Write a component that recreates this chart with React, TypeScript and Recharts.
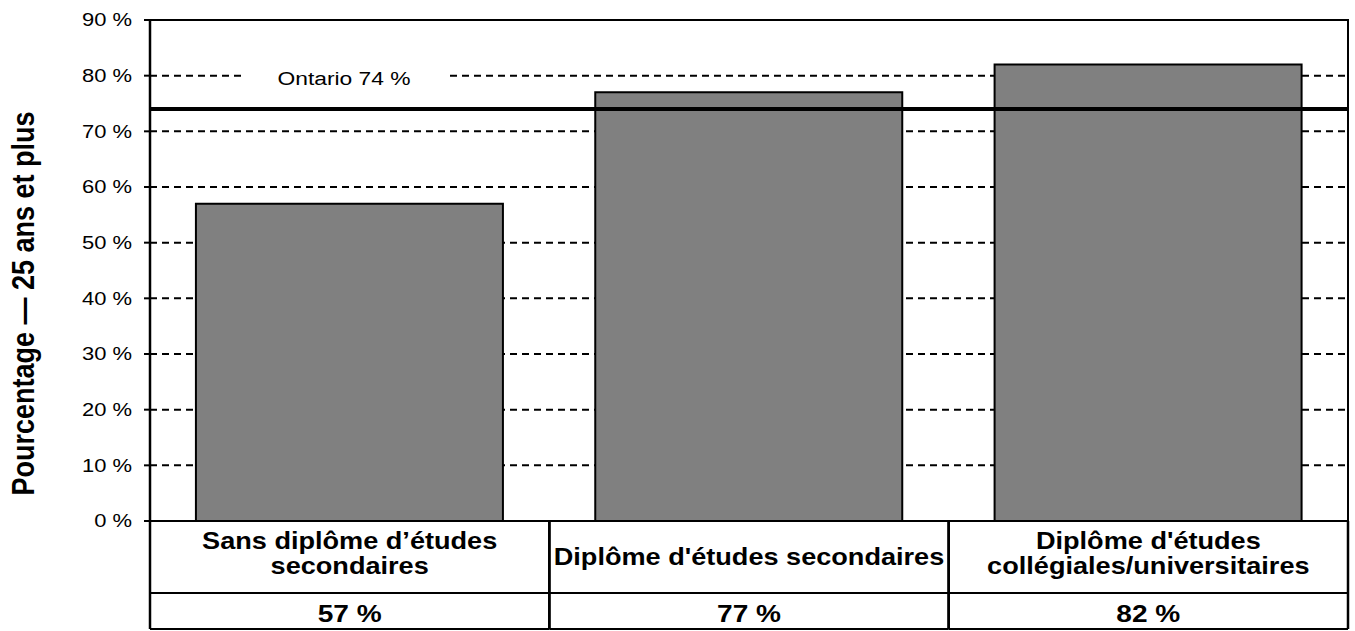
import { BarChart, Bar, XAxis, YAxis, CartesianGrid, ReferenceLine, ReferenceArea, Label } from "recharts";

const categories = [
  "Sans diplôme d’études\nsecondaires",
  "Diplôme d'études secondaires",
  "Diplôme d'études\ncollégiales/universitaires",
];
const values = [57, 77, 82];
const valueLabels = ["57 %", "77 %", "82 %"];
const yTicks = [0, 10, 20, 30, 40, 50, 60, 70, 80, 90];
const ontarioValue = 74;
const ontarioText = "Ontario 74 %";
const yTitle = "Pourcentage — 25 ans et plus";

const W = 1355;
const H = 631;
const M = { top: 20, right: 7, bottom: 2, left: 0 };
const Y_AXIS_W = 150;
const X_AXIS_H = 108;
const BAND = (W - M.left - M.right - Y_AXIS_W) / categories.length;
const FONT = "'Liberation Sans', Arial, Helvetica, sans-serif";

const data = categories.map((name, i) => ({ name, pct: values[i] }));

function YTick(props: any) {
  const { x, y, payload } = props;
  return (
    <text
      transform={`translate(${x},${y}) scale(1.22,1)`}
      textAnchor="end"
      dy="0.36em"
      fontSize={18}
      fontFamily={FONT}
      fill="#000"
    >
      {`${payload.value} %`}
    </text>
  );
}

function TableTick(props: any) {
  const { x, y, payload, index } = props;
  const half = BAND / 2;
  const lines = String(payload.value).split("\n");
  const baselines = lines.length === 1 ? [44] : [28, 53];
  return (
    <g fontFamily={FONT} fontWeight="bold" fontSize={24} fill="#000">
      <line x1={x - half} y1={y} x2={x - half} y2={y + X_AXIS_H} stroke="#000" strokeWidth={2.5} />
      <line x1={x + half} y1={y} x2={x + half} y2={y + X_AXIS_H} stroke="#000" strokeWidth={2.5} />
      <line x1={x - half} y1={y + 72} x2={x + half} y2={y + 72} stroke="#000" strokeWidth={2} />
      <line x1={x - half} y1={y + X_AXIS_H} x2={x + half} y2={y + X_AXIS_H} stroke="#000" strokeWidth={2} />
      {lines.map((l, i) => (
        <text key={i} transform={`translate(${x},${y + baselines[i]}) scale(1.13,1)`} textAnchor="middle">
          {l}
        </text>
      ))}
      <text transform={`translate(${x},${y + 101}) scale(1.17,1)`} textAnchor="middle">
        {valueLabels[index]}
      </text>
    </g>
  );
}

function OntarioLabel(props: any) {
  const { viewBox } = props;
  const cx = viewBox.x + 194;
  const cy = viewBox.y - 31;
  return (
    <g>
      <rect x={cx - 99} y={cy - 10} width={200} height={20} fill="#fff" />
      <text
        transform={`translate(${cx},${cy}) scale(1.2,1)`}
        textAnchor="middle"
        dy="0.36em"
        fontSize={19}
        fontFamily={FONT}
        fill="#000"
      >
        {ontarioText}
      </text>
    </g>
  );
}

function YTitle(props: any) {
  const { viewBox } = props;
  const cx = viewBox.x + 34;
  const cy = viewBox.y + viewBox.height / 2 + 33;
  return (
    <text
      transform={`translate(${cx},${cy}) scale(1.13,1) rotate(-90)`}
      textAnchor="middle"
      fontSize={27}
      fontWeight="bold"
      fontFamily={FONT}
      fill="#000"
    >
      {yTitle}
    </text>
  );
}

export default function App() {
  return (
    <div style={{ position: "absolute", left: 0, top: 0, width: W, height: H, background: "#fff" }}>
      <BarChart width={W} height={H} data={data} margin={M} barCategoryGap="11.5%">
        <CartesianGrid vertical={false} stroke="#000" strokeWidth={2} strokeDasharray="7 5" />
        <XAxis
          dataKey="name"
          height={X_AXIS_H}
          interval={0}
          axisLine={{ stroke: "#000", strokeWidth: 2 }}
          tickLine={false}
          tickSize={0}
          tickMargin={0}
          tick={<TableTick />}
        />
        <YAxis
          width={Y_AXIS_W}
          domain={[0, 90]}
          ticks={yTicks}
          interval={0}
          axisLine={{ stroke: "#000", strokeWidth: 2.5 }}
          tickLine={{ stroke: "#000", strokeWidth: 2 }}
          tickSize={6}
          tickMargin={12}
          tick={<YTick />}
        >
          <Label content={<YTitle />} />
        </YAxis>
        <Bar dataKey="pct" fill="#808080" stroke="#000" strokeWidth={2} isAnimationActive={false} />
        <ReferenceArea y1={0} y2={90} fill="none" stroke="#000" strokeWidth={2} fillOpacity={0} />
        <ReferenceLine y={ontarioValue} stroke="#000" strokeWidth={4}>
          <Label content={<OntarioLabel />} />
        </ReferenceLine>
      </BarChart>
    </div>
  );
}
